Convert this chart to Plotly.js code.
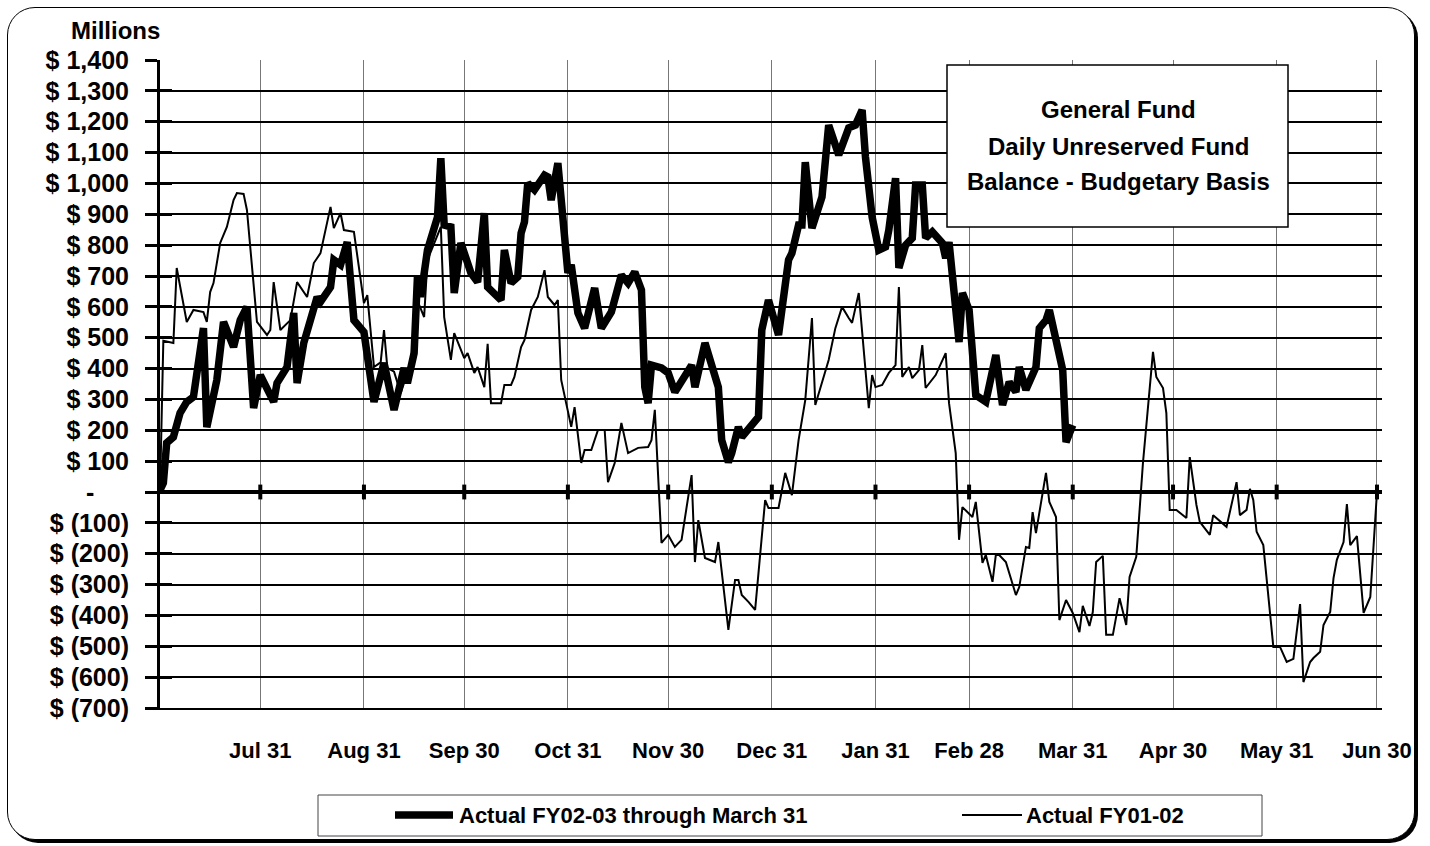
<!DOCTYPE html>
<html>
<head>
<meta charset="utf-8">
<script src="https://cdn.plot.ly/plotly-3.0.1.min.js"></script>
<style>
html,body{margin:0;padding:0;background:#fff;}
#frame{position:absolute;left:7px;top:7px;width:1406px;height:831px;border:1.5px solid #000;border-radius:28px;box-shadow:3px 3px 0 #000;background:#fff;}
#chart{position:absolute;left:0;top:0;width:1430px;height:846px;}
</style>
</head>
<body>
<div id="frame"></div>
<div id="chart"></div>
<script>
// ---- Data (values in $ millions, x = day of fiscal year, 0 = Jul 1) ----
const seriesNames = ["Actual FY02-03 through March 31", "Actual FY01-02"];

const fy0203Days = [0,1,2,4,6,8,10,13,14,17,19,22,24,26,28,30,34,35,38,40,41,43,47,48,51,52,54,56,58,61,64,67,70,73,74,76,77,78,80,82,83,84,85,87,88,90,93,95,97,98,102,103,105,107,108,109,110,112,115,116,117,119,121,122,123,125,127,130,132,135,138,140,142,144,145,146,147,150,152,154,159,160,163,165,167,168,170,171,173,174,179,180,182,185,188,189,191,192,193,195,198,200,203,206,208,210,211,213,215,217,218,220,221,223,225,226,228,229,231,234,235,236,238,239,240,242,244,247,250,252,254,256,257,259,262,263,265,266,270,271,273];
const fy0203Vals = [6,29,159,178,256,292,308,531,210,363,551,470,557,600,272,379,292,353,405,580,353,483,632,616,664,752,736,810,557,518,292,418,266,402,353,450,697,632,784,859,891,1082,865,859,645,807,710,680,904,664,622,784,677,697,839,875,1001,979,1027,1021,946,1066,859,710,736,580,531,661,531,583,703,677,713,655,340,288,411,402,386,324,411,340,483,405,340,168,97,126,211,178,243,525,622,509,752,774,865,865,1069,855,956,1189,1092,1180,1189,1238,1086,891,784,794,849,1017,726,800,823,995,995,823,843,807,758,810,600,486,645,590,314,292,444,282,356,324,405,331,405,531,557,590,395,162,217];

const fy0102Days = [0,1,4,5,8,10,13,14,15,16,18,20,22,23,25,26,29,32,33,34,36,39,41,44,46,48,51,52,54,55,58,61,62,64,66,67,68,70,72,75,77,79,80,84,85,87,88,91,92,94,95,97,98,99,102,103,105,106,108,109,111,113,115,116,118,119,120,123,124,126,127,129,131,133,134,136,138,140,143,146,147,148,150,152,154,156,159,160,161,163,166,167,170,172,173,174,176,178,181,182,185,187,189,191,193,195,196,200,202,204,206,207,209,210,212,213,214,216,218,220,221,222,224,225,227,228,229,232,235,236,238,239,240,243,244,246,247,249,250,251,253,256,257,259,260,261,262,265,266,268,269,271,273,275,276,278,279,280,282,283,285,287,289,290,292,294,297,298,300,301,302,304,307,308,310,311,314,315,319,322,323,325,326,327,328,330,331,333,335,337,339,341,342,344,345,347,348,350,351,352,354,355,356,358,360,362,364];
const fy0102Vals = [0,490,483,726,551,590,583,551,648,677,807,859,946,969,966,914,551,509,525,680,525,557,680,632,742,774,924,855,904,849,843,612,638,405,420,525,402,390,320,420,620,567,752,859,567,428,515,434,450,386,405,340,480,288,288,347,347,373,470,492,590,632,719,632,606,622,363,211,275,94,136,136,201,201,32,94,224,126,143,146,168,266,-165,-139,-178,-155,55,-227,-91,-214,-227,-162,-447,-285,-285,-334,-356,-382,-26,-52,-52,62,-10,168,298,564,282,428,531,600,564,548,645,515,272,379,340,347,386,411,664,373,405,369,395,476,337,379,450,288,126,-155,-49,-81,-32,-230,-204,-291,-204,-204,-227,-334,-308,-178,-181,-65,-133,62,-32,-81,-415,-350,-392,-454,-369,-434,-389,-227,-207,-463,-463,-344,-431,-275,-210,94,454,373,337,256,-58,-58,-84,113,-42,-97,-139,-75,-113,32,-75,-58,10,-26,-129,-172,-285,-502,-502,-551,-541,-363,-616,-551,-538,-518,-431,-389,-279,-220,-162,-39,-172,-143,-392,-340,0];

const monthEndDays = [30,61,91,122,152,183,214,242,273,303,334,364];
const monthLabels = ["Jul 31","Aug 31","Sep 30","Oct 31","Nov 30","Dec 31","Jan 31","Feb 28","Mar 31","Apr 30","May 31","Jun 30"];

const yTickVals = [-700,-600,-500,-400,-300,-200,-100,0,100,200,300,400,500,600,700,800,900,1000,1100,1200,1300,1400];
const yTickText = ["$ (700)","$ (600)","$ (500)","$ (400)","$ (300)","$ (200)","$ (100)","-\u00a0\u00a0\u00a0\u00a0\u00a0","$ 100","$ 200","$ 300","$ 400","$ 500","$ 600","$ 700","$ 800","$ 900","$ 1,000","$ 1,100","$ 1,200","$ 1,300","$ 1,400"];

const titleLines = ["General Fund", "Daily Unreserved Fund", "Balance - Budgetary Basis"];
const unitLabel = "Millions";

// ---- Layout helpers (pixel -> paper) ----
const W = 1430, H = 846;
const M = {l:160, r:48, t:60, b:138};
const PW = W - M.l - M.r, PH = H - M.t - M.b;
const px = x => (x - M.l) / PW;
const py = y => (H - M.b - y) / PH;

const sans = "Liberation Sans, Arial, sans-serif";

const traces = [
  {x: fy0102Days, y: fy0102Vals, name: seriesNames[1], type: 'scatter', mode: 'lines',
   line: {color: '#000', width: 2}, showlegend: false, hoverinfo: 'skip'},
  {x: fy0203Days, y: fy0203Vals, name: seriesNames[0], type: 'scatter', mode: 'lines',
   line: {color: '#000', width: 7.5}, showlegend: false, hoverinfo: 'skip'}
];

const shapes = [];
// tick marks on the zero line at each month end
monthEndDays.forEach(d => shapes.push({type:'line', xref:'x', yref:'y', x0:d, x1:d, y0:-24, y1:24,
  line:{color:'#000', width:4}}));
// title box
shapes.push({type:'rect', xref:'paper', yref:'paper', x0:px(947), x1:px(1288), y0:py(227), y1:py(65),
  fillcolor:'#fff', line:{color:'#000', width:1.5}});
// legend frame
shapes.push({type:'rect', xref:'paper', yref:'paper', x0:px(318), x1:px(1262), y0:py(836), y1:py(795),
  fillcolor:'rgba(0,0,0,0)', line:{color:'#444', width:1}});
// legend samples
shapes.push({type:'line', xref:'paper', yref:'paper', x0:px(395), x1:px(453), y0:py(815), y1:py(815),
  line:{color:'#000', width:7.5}});
shapes.push({type:'line', xref:'paper', yref:'paper', x0:px(962), x1:px(1022), y0:py(815), y1:py(815),
  line:{color:'#000', width:2}});

const titleFont = {family: sans, size: 24, color: '#000', weight: 'bold'};
const legFont = {family: sans, size: 22, color: '#000', weight: 'bold'};
const annotations = [
  {xref:'paper', yref:'paper', x:px(1118), y:py(109), text:titleLines[0], showarrow:false, font:titleFont, xanchor:'center', yanchor:'middle'},
  {xref:'paper', yref:'paper', x:px(1118), y:py(146), text:titleLines[1], showarrow:false, font:titleFont, xanchor:'center', yanchor:'middle'},
  {xref:'paper', yref:'paper', x:px(1118), y:py(182), text:titleLines[2], showarrow:false, font:titleFont, xanchor:'center', yanchor:'middle'},
  {xref:'paper', yref:'paper', x:px(115), y:py(31), text:unitLabel, showarrow:false,
   font:{family:sans, size:24, color:'#000', weight:'bold'}, xanchor:'center', yanchor:'middle'},
  {xref:'paper', yref:'paper', x:px(457), y:py(815), text:seriesNames[0], showarrow:false, font:legFont, xanchor:'left', yanchor:'middle'},
  {xref:'paper', yref:'paper', x:px(1024), y:py(815), text:seriesNames[1], showarrow:false, font:legFont, xanchor:'left', yanchor:'middle'}
];

const layout = {
  width: W, height: H,
  margin: M,
  paper_bgcolor: 'rgba(0,0,0,0)', plot_bgcolor: 'rgba(0,0,0,0)',
  showlegend: false,
  xaxis: {
    range: [0, 365.5], tickmode: 'array', tickvals: monthEndDays, ticktext: monthLabels,
    showgrid: true, gridcolor: '#777', gridwidth: 1, zeroline: false,
    showline: true, linecolor: '#000', linewidth: 2, ticks: '',
    ticklabelstandoff: 22,
    tickfont: {family: sans, size: 22, color: '#000', weight: 'bold'}
  },
  yaxis: {
    range: [-700, 1400], tickmode: 'array', tickvals: yTickVals, ticktext: yTickText,
    showgrid: true, gridcolor: '#000', gridwidth: 2,
    zeroline: true, zerolinecolor: '#000', zerolinewidth: 4,
    showline: true, linecolor: '#000', linewidth: 3,
    ticks: 'outside', ticklen: 12, tickwidth: 3, tickcolor: '#000',
    ticklabelstandoff: 11,
    tickfont: {family: sans, size: 25, color: '#000', weight: 'bold'}
  },
  yaxis2: {
    overlaying: 'y', side: 'left', anchor: 'x', range: [-700, 1400], tickmode: 'array', tickvals: yTickVals,
    showticklabels: false, showgrid: false, zeroline: false, showline: false,
    ticks: 'inside', ticklen: 12, tickwidth: 3, tickcolor: '#000'
  },
  shapes: shapes,
  annotations: annotations
};

traces.push({x:[null], y:[null], yaxis:'y2', type:'scatter', mode:'lines', showlegend:false, hoverinfo:'skip'});

Plotly.newPlot('chart', traces, layout, {staticPlot: true, displayModeBar: false});
</script>
</body>
</html>
